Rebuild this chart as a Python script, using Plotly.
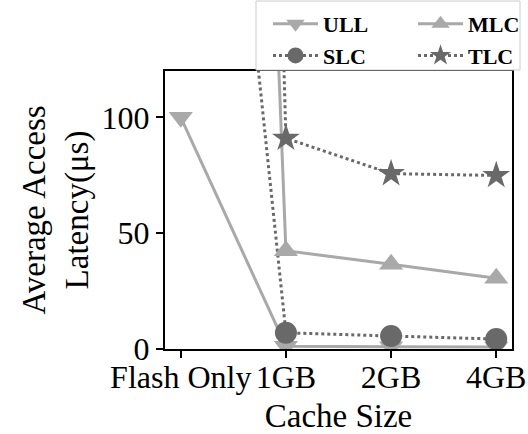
import plotly.graph_objects as go

# Cache configurations on the x axis
cache_sizes = ["Flash Only", "1GB", "2GB", "4GB"]

# Average access latency (µs) per flash type
ull_latency = [100, 1.2, 1.0, 0.9]
slc_latency = [440, 7.0, 5.6, 4.3]
mlc_latency = [1200, 42.4, 36.6, 30.5]
tlc_latency = [1700, 91.0, 75.7, 74.9]

y_ticks = [0, 50, 100]

LIGHT = "#a9a9a9"
DARK = "#696969"
FONT = "Liberation Serif"

W, H = 528, 434
L, R, T, B = 165, 16, 71, 85
PW, PH = W - L - R, H - T - B


def px_x(px):
    return (px - L) / PW


def px_y(py):
    return (H - B - py) / PH


fig = go.Figure()

series = [
    ("ULL", ull_latency, "triangle-down", LIGHT, "solid", 21, "legend"),
    ("SLC", slc_latency, "circle", DARK, "dot", 22, "legend"),
    ("MLC", mlc_latency, "triangle-up", LIGHT, "solid", 21, "legend2"),
    ("TLC", tlc_latency, "star", DARK, "dot", 21, "legend2"),
]

for name, vals, sym, color, dash, size, leg in series:
    fig.add_trace(go.Scatter(
        x=cache_sizes, y=vals, name=name, mode="lines+markers",
        line=dict(color=color, width=3, dash=dash),
        marker=dict(symbol=sym, size=size, color=color, line=dict(width=0)),
        legend=leg, cliponaxis=True,
    ))

# Frame behind the two legend columns
fig.add_shape(
    type="rect", xref="paper", yref="paper",
    x0=px_x(256), x1=px_x(520), y0=px_y(70), y1=px_y(1),
    fillcolor="white", line=dict(color="#cccccc", width=1), layer="above",
)

legend_common = dict(
    bgcolor="rgba(0,0,0,0)", borderwidth=0,
    font=dict(family=FONT, size=22, color="black", weight="bold"),
    orientation="v", yanchor="top", xanchor="left", itemwidth=45,
    itemsizing="trace",
)

fig.update_layout(
    width=W, height=H,
    margin=dict(l=L, r=R, t=T, b=B, pad=0, autoexpand=False),
    paper_bgcolor="white", plot_bgcolor="white",
    font=dict(family=FONT, size=32, color="black"),
    showlegend=True,
    legend=dict(x=px_x(268), y=px_y(3), **legend_common),
    legend2=dict(x=px_x(413), y=px_y(3), **legend_common),
    xaxis=dict(
        type="category", range=[-0.15, 3.15], automargin=False,
        showline=True, linecolor="black", linewidth=2, mirror=True,
        ticks="outside", ticklen=7, tickwidth=1.5, tickcolor="black",
        tickangle=0, showgrid=False, zeroline=False, ticklabelstandoff=-8,
        tickfont=dict(family=FONT, size=32),
        title=dict(text="Cache Size", font=dict(family=FONT, size=33), standoff=9),
    ),
    yaxis=dict(
        range=[0, 120], tickvals=y_ticks, automargin=False,
        showline=True, linecolor="black", linewidth=2, mirror=True,
        ticks="outside", ticklen=7, tickwidth=1.5, tickcolor="black",
        showgrid=False, zeroline=False,
        tickfont=dict(family=FONT, size=32),
        title=dict(text="Average Access<br>Latency(μs)",
                   font=dict(family=FONT, size=33), standoff=3),
    ),
)

fig.write_html("out.html")
